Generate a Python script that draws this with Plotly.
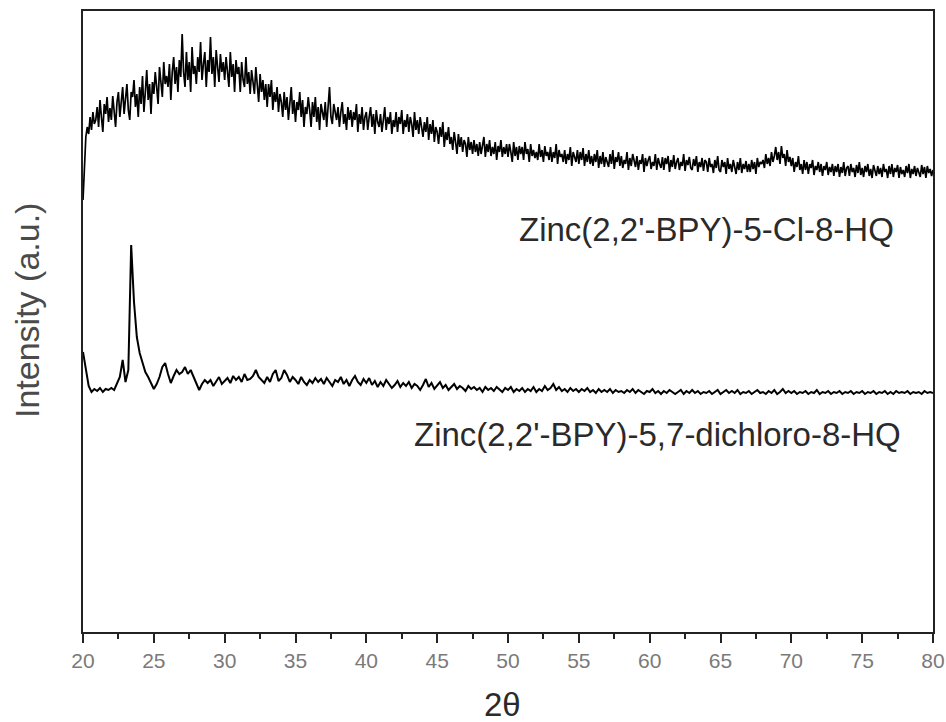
import plotly.graph_objects as go

# 2-theta sampling of the digitised patterns (degrees)
cl_start, cl_step = 20.0, 0.1
di_start, di_step = 20.0, 0.2

# Zinc(2,2'-BPY)-5-Cl-8-HQ  (intensity, arbitrary units), one row per degree
cl_hq = [
    432, 470, 495, 505, 498, 515, 502, 520, 508, 512,
    525, 505, 532, 515, 500, 528, 518, 535, 510, 524,
    512, 536, 520, 505, 530, 540, 515, 528, 545, 518,
    530, 548, 522, 512, 540, 535, 552, 525, 538, 515,
    545, 528, 556, 520, 540, 562, 532, 548, 518, 550,
    538, 560, 545, 528, 565, 550, 535, 570, 548, 556,
    545, 568, 532, 560, 575, 548, 565, 540, 572, 555,
    598, 560, 545, 580, 552, 570, 540, 585, 558, 566,
    548, 575, 560, 590, 552, 568, 580, 545, 572, 560,
    595, 558, 575, 545, 582, 565, 550, 578, 560, 570,
    552, 575, 560, 545, 580, 555, 568, 540, 572, 558,
    565, 540, 570, 552, 545, 575, 548, 560, 538, 562,
    550, 538, 565, 545, 530, 558, 540, 552, 532, 548,
    525, 548, 535, 552, 522, 540, 530, 545, 520, 538,
    530, 515, 540, 522, 535, 512, 528, 545, 518, 532,
    510, 530, 522, 540, 515, 532, 505, 525, 518, 535,
    522, 505, 530, 515, 535, 510, 525, 502, 528, 518,
    512, 530, 505, 525, 545, 515, 508, 528, 520, 512,
    525, 505, 520, 530, 508, 518, 502, 525, 512, 522,
    505, 520, 512, 528, 500, 518, 508, 525, 502, 515,
    520, 502, 515, 525, 505, 518, 498, 522, 510, 505,
    518, 500, 512, 525, 502, 515, 508, 520, 498, 512,
    505, 520, 500, 515, 508, 522, 498, 512, 505, 518,
    500, 515, 508, 495, 520, 502, 512, 498, 515, 505,
    495, 510, 500, 515, 492, 508, 498, 512, 490, 505,
    500, 488, 505, 495, 510, 485, 500, 492, 505, 488,
    495, 482, 500, 490, 478, 498, 485, 495, 480, 492,
    488, 475, 495, 482, 490, 478, 492, 480, 488, 476,
    490, 478, 485, 495, 475, 488, 480, 492, 476, 485,
    478, 490, 472, 486, 480, 492, 475, 485, 478, 488,
    475, 488, 480, 470, 490, 476, 485, 472, 486, 478,
    485, 472, 490, 478, 483, 470, 488, 476, 482, 474,
    480, 472, 488, 475, 482, 470, 486, 476, 480, 472,
    485, 470, 480, 474, 488, 468, 482, 475, 478, 470,
    482, 468, 478, 472, 485, 466, 480, 474, 470, 482,
    468, 480, 472, 484, 466, 478, 470, 482, 468, 476,
    466, 478, 470, 482, 464, 476, 468, 480, 465, 475,
    470, 465, 478, 468, 482, 463, 475, 470, 480, 466,
    476, 464, 472, 468, 480, 462, 474, 466, 478, 470,
    465, 476, 462, 472, 468, 478, 460, 474, 466, 472,
    476, 463, 470, 466, 478, 462, 474, 468, 464, 475,
    462, 474, 468, 476, 460, 472, 465, 477, 463, 470,
    474, 462, 470, 466, 478, 461, 472, 467, 475, 464,
    462, 473, 466, 476, 460, 470, 465, 474, 461, 472,
    470, 460, 474, 465, 468, 459, 472, 464, 476, 462,
    460, 472, 465, 470, 458, 474, 463, 468, 460, 472,
    465, 458, 470, 462, 474, 459, 468, 463, 471, 460,
    468, 460, 472, 463, 470, 458, 474, 465, 470, 468,
    472, 464, 478, 468, 474, 466, 480, 470, 476, 485,
    472, 480, 468, 486, 474, 478, 466, 482, 470, 475,
    466, 474, 460, 470, 465, 476, 462, 468, 458, 472,
    462, 470, 458, 468, 464, 472, 457, 466, 462, 470,
    460, 468, 456, 466, 462, 470, 457, 465, 460, 468,
    456, 466, 460, 468, 455, 465, 459, 470, 456, 464,
    466, 456, 468, 460, 464, 455, 467, 459, 470, 457,
    464, 455, 466, 460, 468, 456, 463, 454, 467, 460,
    456, 466, 458, 464, 455, 468, 460, 463, 454, 466,
    458, 468, 455, 464, 460, 467, 454, 465, 458, 462,
    455, 466, 459, 468, 454, 463, 458, 466, 456, 464,
    460, 455, 467, 458, 465, 454, 466, 459, 463, 456,
    462,
]

# Zinc(2,2'-BPY)-5,7-dichloro-8-HQ  (intensity, arbitrary units), one row per degree
dichloro_hq = [
    280, 265, 246, 240, 243,
    241, 244, 240, 243, 242,
    244, 242, 248, 255, 272,
    250, 262, 387, 330, 295,
    279, 268, 260, 255, 248,
    243, 248, 255, 265, 269,
    258, 249, 256, 262, 258,
    260, 265, 258, 262, 255,
    250, 242, 248, 252, 249,
    252, 246, 250, 255, 248,
    251, 254, 249, 256, 252,
    255, 250, 258, 252, 253,
    256, 262, 255, 252, 249,
    255, 250, 258, 262, 251,
    254, 262, 257, 250, 255,
    252, 248, 255, 250, 247,
    252, 249, 254, 250, 253,
    248, 254, 250, 246, 252,
    250, 255, 248, 252, 246,
    252, 256, 250, 247, 253,
    249, 254, 247, 251, 245,
    250, 246, 252, 248, 244,
    247, 251, 245, 249, 246,
    250, 244, 248, 246, 242,
    247, 253, 245, 249, 243,
    246, 250, 244, 247, 242,
    245, 248, 243, 246, 244,
    241, 246, 243, 245, 242,
    244, 240, 245, 242, 244,
    241, 245, 242, 240, 244,
    242, 245, 240, 243, 241,
    244, 240, 243, 241, 245,
    240, 243, 241, 246, 242,
    244, 248, 242, 245, 241,
    243, 240, 244, 241, 243,
    240, 243, 241, 244, 240,
    242, 239, 243, 240, 242,
    240, 243, 239, 242, 240,
    241, 239, 242, 240, 243,
    239, 242, 240, 238, 241,
    240, 243, 239, 241, 238,
    241, 239, 242, 240, 238,
    240, 242, 238, 241, 239,
    242, 239, 241, 238, 240,
    239, 241, 238, 240, 242,
    238, 240, 242, 239, 241,
    239, 242, 238, 240, 239,
    241, 238, 240, 242, 239,
    240, 238, 241, 239, 242,
    238, 240, 243, 239, 241,
    239, 241, 238, 240, 239,
    241, 238, 240, 239, 242,
    238, 240, 239, 241, 238,
    240, 239, 241, 238, 240,
    239, 241, 238, 240, 239,
    241, 238, 240, 239, 241,
    238, 240, 239, 241, 238,
    240, 238, 241, 239, 240,
    239, 241, 238, 240, 239,
    240, 238, 241, 239, 240,
    239,
]

labels = ["Zinc(2,2'-BPY)-5-Cl-8-HQ", "Zinc(2,2'-BPY)-5,7-dichloro-8-HQ"]
x_ticks = [20, 25, 30, 35, 40, 45, 50, 55, 60, 65, 70, 75, 80]

theta_cl = [round(cl_start + i * cl_step, 2) for i in range(len(cl_hq))]
theta_di = [round(di_start + i * di_step, 2) for i in range(len(dichloro_hq))]

FONT = "Liberation Sans, Arial, sans-serif"

fig = go.Figure()
fig.add_trace(go.Scatter(x=theta_cl, y=cl_hq, mode="lines",
                         line=dict(color="black", width=1.7), name=labels[0]))
fig.add_trace(go.Scatter(x=theta_di, y=dichloro_hq, mode="lines",
                         line=dict(color="black", width=2), name=labels[1]))

fig.update_layout(
    width=946, height=722,
    margin=dict(l=83, r=13, t=11, b=90, autoexpand=False),
    paper_bgcolor="white", plot_bgcolor="white",
    showlegend=False,
    font=dict(family=FONT),
)
fig.update_xaxes(
    range=[20, 80], tickvals=x_ticks, ticktext=[str(v) for v in x_ticks],
    ticks="outside", ticklen=9, tickwidth=2, tickcolor="#222",
    minor=dict(dtick=2.5, tick0=20, ticks="outside", ticklen=5, tickwidth=2, tickcolor="#222"),
    showline=True, linecolor="#222", linewidth=2, mirror=True,
    showgrid=False, zeroline=False, automargin=False,
    tickfont=dict(family=FONT, size=21, color="#7a7a7a"),
)
fig.update_yaxes(
    range=[0, 621], showticklabels=False, ticks="",
    showline=True, linecolor="#222", linewidth=2, mirror=True,
    showgrid=False, zeroline=False, automargin=False,
)

fig.add_annotation(text=labels[0], xref="paper", yref="paper",
                   x=(896 - 83) / 850, xanchor="right",
                   y=(632 - 229) / 621, yanchor="middle",
                   showarrow=False, font=dict(family=FONT, size=33, color="#2a2a2a"))
fig.add_annotation(text=labels[1], xref="paper", yref="paper",
                   x=(903 - 83) / 850, xanchor="right",
                   y=(632 - 435) / 621, yanchor="middle",
                   showarrow=False, font=dict(family=FONT, size=33, color="#2a2a2a"))
fig.add_annotation(text="2θ", xref="paper", yref="paper",
                   x=(502 - 83) / 850, xanchor="center",
                   y=(632 - 704) / 621, yanchor="middle",
                   showarrow=False, font=dict(family=FONT, size=33, color="#2a2a2a"))
fig.add_annotation(text="Intensity (a.u.)", xref="paper", yref="paper",
                   x=(27 - 83) / 850, xanchor="center",
                   y=(632 - 311) / 621, yanchor="middle", textangle=-90,
                   showarrow=False, font=dict(family=FONT, size=34, color="#4a4a4a"))

fig.write_html("out.html")
